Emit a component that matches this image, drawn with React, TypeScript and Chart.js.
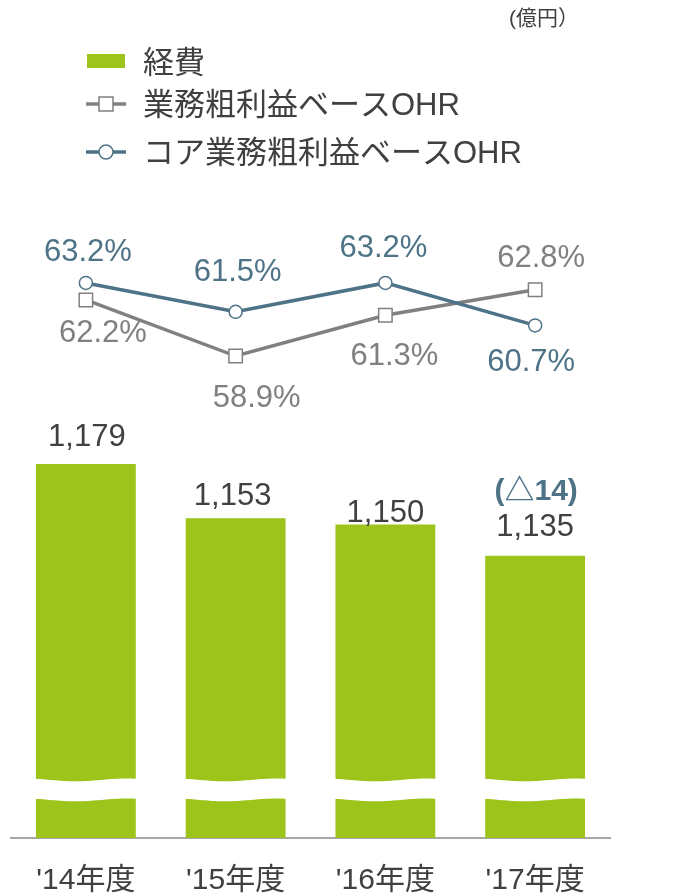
import React, { useEffect, useRef } from "react";
import { Chart, registerables } from "chart.js";

Chart.register(...registerables);

// ---- data ----
const categories = ["'14年度", "'15年度", "'16年度", "'17年度"];
const expenses = [1179, 1153, 1150, 1135];
const grossOhr = [62.2, 58.9, 61.3, 62.8];
const coreOhr = [63.2, 61.5, 63.2, 60.7];
const seriesNames = ["経費", "業務粗利益ベースOHR", "コア業務粗利益ベースOHR"];
const unitLabel = "(億円）";
const lastChangeLabel = "(△14)";

// ---- styles ----
const GREEN = "#9dc41a";
const TEAL = "#4e7387";
const GRAY = "#808080";
const TEXT = "#404040";
const AXIS = "#a6a6a6";
const FONT = '"Liberation Sans", "Noto Sans CJK JP", sans-serif';
const BREAK_VALUE = 1023;

// label placement (dx, dy) relative to the mark
const barLabelOffsets = [[1, -18], [-3, -13], [0, -3], [0, -20]];
const coreLabelOffsets = [[2, -22], [2, -31], [-2, -26], [-4, 46]];
const grossLabelOffsets = [[17, 42], [21, 51], [9, 50], [6, -23]];

const breakPlugin = {
  id: "axisBreak",
  afterDatasetDraw(chart: any, args: any) {
    if (args.index !== 0) return;
    const ctx = chart.ctx;
    const yc = chart.scales.y.getPixelForValue(BREAK_VALUE);
    const wave = (t: number) => 1.4 * Math.sin(2 * Math.PI * (t - 0.15));
    args.meta.data.forEach((el: any) => {
      const w = el.width;
      const L = el.x - w / 2 - 1;
      const R = el.x + w / 2 + 1;
      const N = 40;
      ctx.save();
      ctx.beginPath();
      for (let k = 0; k <= N; k++) {
        const t = k / N;
        const x = L + (R - L) * t;
        const y = yc - 10 + wave(t);
        if (k === 0) ctx.moveTo(x, y);
        else ctx.lineTo(x, y);
      }
      for (let k = N; k >= 0; k--) {
        const t = k / N;
        const x = L + (R - L) * t;
        const y = yc + 10 + wave(t);
        ctx.lineTo(x, y);
      }
      ctx.closePath();
      ctx.fillStyle = "#ffffff";
      ctx.fill();
      ctx.restore();
    });
  },
};

const labelPlugin = {
  id: "valueLabels",
  afterDraw(chart: any) {
    const ctx = chart.ctx;
    ctx.save();
    ctx.textAlign = "center";
    ctx.textBaseline = "alphabetic";

    const barMeta = chart.getDatasetMeta(0);
    ctx.font = `31px ${FONT}`;
    ctx.fillStyle = TEXT;
    barMeta.data.forEach((el: any, i: number) => {
      const [dx, dy] = barLabelOffsets[i];
      ctx.fillText(expenses[i].toLocaleString("en-US"), el.x + dx, el.y + dy);
    });
    const lastBar = barMeta.data[barMeta.data.length - 1];
    ctx.font = `bold 30px ${FONT}`;
    ctx.fillStyle = TEAL;
    ctx.fillText(lastChangeLabel, lastBar.x + 1, lastBar.y - 56);

    ctx.font = `31px ${FONT}`;
    const grossMeta = chart.getDatasetMeta(1);
    ctx.fillStyle = GRAY;
    grossMeta.data.forEach((el: any, i: number) => {
      const [dx, dy] = grossLabelOffsets[i];
      ctx.fillText(grossOhr[i].toFixed(1) + "%", el.x + dx, el.y + dy);
    });
    const coreMeta = chart.getDatasetMeta(2);
    ctx.fillStyle = TEAL;
    coreMeta.data.forEach((el: any, i: number) => {
      const [dx, dy] = coreLabelOffsets[i];
      ctx.fillText(coreOhr[i].toFixed(1) + "%", el.x + dx, el.y + dy);
    });
    ctx.restore();
  },
};

const legendPlugin = {
  id: "customLegend",
  afterDraw(chart: any) {
    const ctx = chart.ctx;
    ctx.save();
    ctx.textAlign = "left";
    ctx.textBaseline = "alphabetic";
    ctx.fillStyle = TEXT;
    ctx.font = `21px ${FONT}`;
    ctx.fillText(unitLabel, 509, 25);

    ctx.font = `31px ${FONT}`;
    // bar item
    ctx.fillStyle = GREEN;
    ctx.fillRect(87, 54, 38, 14);
    ctx.fillStyle = TEXT;
    ctx.fillText(seriesNames[0], 143, 73);

    // gross OHR item
    ctx.strokeStyle = GRAY;
    ctx.lineWidth = 3.5;
    ctx.beginPath();
    ctx.moveTo(86, 104);
    ctx.lineTo(126, 104);
    ctx.stroke();
    ctx.fillStyle = "#ffffff";
    ctx.lineWidth = 1.5;
    ctx.beginPath();
    ctx.rect(99, 97, 14, 14);
    ctx.fill();
    ctx.stroke();
    ctx.fillStyle = TEXT;
    ctx.fillText(seriesNames[1], 143, 115);

    // core OHR item
    ctx.strokeStyle = TEAL;
    ctx.lineWidth = 3.5;
    ctx.beginPath();
    ctx.moveTo(86, 152);
    ctx.lineTo(126, 152);
    ctx.stroke();
    ctx.fillStyle = "#ffffff";
    ctx.lineWidth = 1.5;
    ctx.beginPath();
    ctx.arc(106, 152, 7, 0, Math.PI * 2);
    ctx.fill();
    ctx.stroke();
    ctx.fillStyle = TEXT;
    ctx.fillText(seriesNames[2], 143, 163);
    ctx.restore();
  },
};

export default function App() {
  const ref = useRef<HTMLCanvasElement>(null);
  useEffect(() => {
    document.body.style.margin = "0";
    const canvas = ref.current!;
    const chart = new Chart(canvas, {
      type: "bar",
      data: {
        labels: categories,
        datasets: [
          {
            type: "bar",
            label: seriesNames[0],
            data: expenses,
            backgroundColor: GREEN,
            yAxisID: "y",
            order: 2,
            barPercentage: 1,
            categoryPercentage: 2 / 3,
          } as any,
          {
            type: "line",
            label: seriesNames[1],
            data: grossOhr,
            yAxisID: "y2",
            borderColor: GRAY,
            borderWidth: 3.5,
            pointStyle: "rect",
            pointRadius: 9.5,
            pointBackgroundColor: "#ffffff",
            pointBorderColor: GRAY,
            pointBorderWidth: 1.5,
            order: 1,
            tension: 0,
          } as any,
          {
            type: "line",
            label: seriesNames[2],
            data: coreOhr,
            yAxisID: "y2",
            borderColor: TEAL,
            borderWidth: 3.5,
            pointStyle: "circle",
            pointRadius: 6.5,
            pointBackgroundColor: "#ffffff",
            pointBorderColor: TEAL,
            pointBorderWidth: 1.5,
            order: 0,
            tension: 0,
          } as any,
        ],
      },
      options: {
        responsive: false,
        animation: false,
        events: [],
        layout: { padding: { left: 10, right: 89, top: 211, bottom: -28 } },
        plugins: {
          legend: { display: false },
          tooltip: { enabled: false },
        },
        scales: {
          x: {
            z: 1,
            grid: { display: false, drawTicks: false },
            border: { display: true, color: AXIS, width: 2 },
            ticks: {
              color: TEXT,
              font: { family: FONT, size: 30, lineHeight: 1 },
              padding: 28,
            },
          },
          y: { display: false, min: 1000, max: 1300 },
          y2: { display: false, position: "right", min: 30.55, max: 67.43 },
        },
      } as any,
      plugins: [breakPlugin, labelPlugin, legendPlugin],
    });
    return () => chart.destroy();
  }, []);
  return (
    <div style={{ width: 699, height: 896 }}>
      <canvas ref={ref} width={699} height={896} style={{ display: "block" }} />
    </div>
  );
}
